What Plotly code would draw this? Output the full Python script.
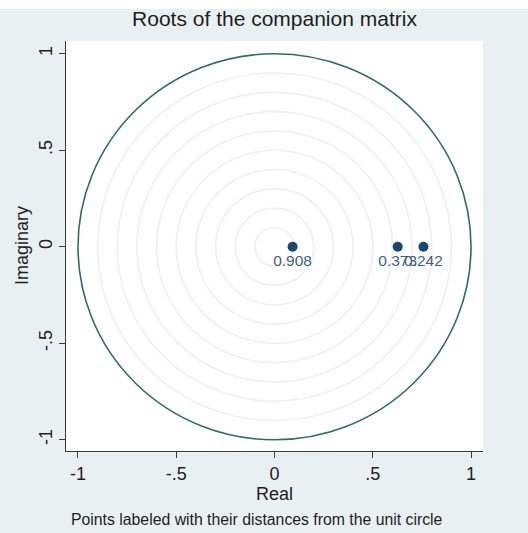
import numpy as np
import plotly.graph_objects as go

# Eigenvalues of the companion matrix (real and imaginary parts)
root_real = [0.092, 0.627, 0.758]
root_imag = [0.0, 0.0, 0.0]

# Reference rings inside the unit circle
ring_radii = [0.1, 0.2, 0.3, 0.4, 0.5, 0.6, 0.7, 0.8, 0.9]

tick_vals = [-1, -0.5, 0, 0.5, 1]
tick_text = ["-1", "-.5", "0", ".5", "1"]

FONT = "Liberation Sans, Arial, sans-serif"
BG = "#e9f0f2"
NAVY = "#1a476f"
TEAL = "#2d6c69"

# Distance of each root from the unit circle
modulus = np.hypot(root_real, root_imag)
labels = [f"{1 - m:.3f}" for m in modulus]

fig = go.Figure()

fig.add_trace(go.Scatter(
    x=root_real, y=root_imag,
    mode="markers+text",
    marker=dict(color=NAVY, size=10, line=dict(width=0)),
    text=labels,
    textposition="bottom center",
    textfont=dict(family=FONT, size=15.5, color="#45617f"),
    hoverinfo="skip",
    showlegend=False,
))

shapes = []
for r in ring_radii:
    shapes.append(dict(type="circle", xref="x", yref="y",
                       x0=-r, x1=r, y0=-r, y1=r,
                       line=dict(color="#efefef", width=1.6),
                       layer="below"))
shapes.append(dict(type="circle", xref="x", yref="y",
                   x0=-1, x1=1, y0=-1, y1=1,
                   line=dict(color=TEAL, width=1.6),
                   layer="below"))
# thin white band along the top edge of the page
shapes.append(dict(type="rect", xref="paper", yref="paper",
                   x0=-0.2, x1=1.2, y0=1 + 32 / 411, y1=1 + 41 / 411,
                   fillcolor="white", line=dict(width=0), layer="below"))

annotations = [
    dict(text="Real", xref="paper", yref="paper", x=0.5, y=0,
         xanchor="center", yanchor="middle", yshift=-43, showarrow=False,
         font=dict(family=FONT, size=18, color="#1e1e1e")),
    dict(text="Imaginary", xref="paper", yref="paper", x=0, y=0.5,
         xanchor="center", yanchor="middle", xshift=-44, textangle=-90,
         showarrow=False, font=dict(family=FONT, size=18, color="#1e1e1e")),
    dict(text="Points labeled with their distances from the unit circle",
         xref="paper", yref="paper", x=0, y=0, xanchor="left",
         yanchor="middle", xshift=3, yshift=-68, showarrow=False,
         font=dict(family=FONT, size=15.8, color="#1e1e1e")),
]

axis_common = dict(
    tickvals=tick_vals, ticktext=tick_text,
    showgrid=False, zeroline=False,
    showline=True, linecolor="#3a3a3a", linewidth=1.2,
    ticks="outside", ticklen=6, tickcolor="#3a3a3a", tickwidth=1.2,
    tickfont=dict(family=FONT, size=18, color="#1e1e1e"),
    fixedrange=True,
)

fig.update_layout(
    width=528, height=533,
    margin=dict(l=66, r=45, t=41, b=82),
    paper_bgcolor=BG, plot_bgcolor="white",
    title=dict(text="Roots of the companion matrix",
               x=(66 + 483) / 2 / 528, xanchor="center",
               y=1 - 19 / 533, yanchor="middle", yref="container",
               font=dict(family=FONT, size=21, color="#1e1e1e")),
    xaxis=dict(range=[-1.061, 1.061], **axis_common),
    yaxis=dict(range=[-1.058, 1.066], tickangle=-90, **axis_common),
    shapes=shapes,
    annotations=annotations,
    showlegend=False,
)

fig.write_html("out.html")
